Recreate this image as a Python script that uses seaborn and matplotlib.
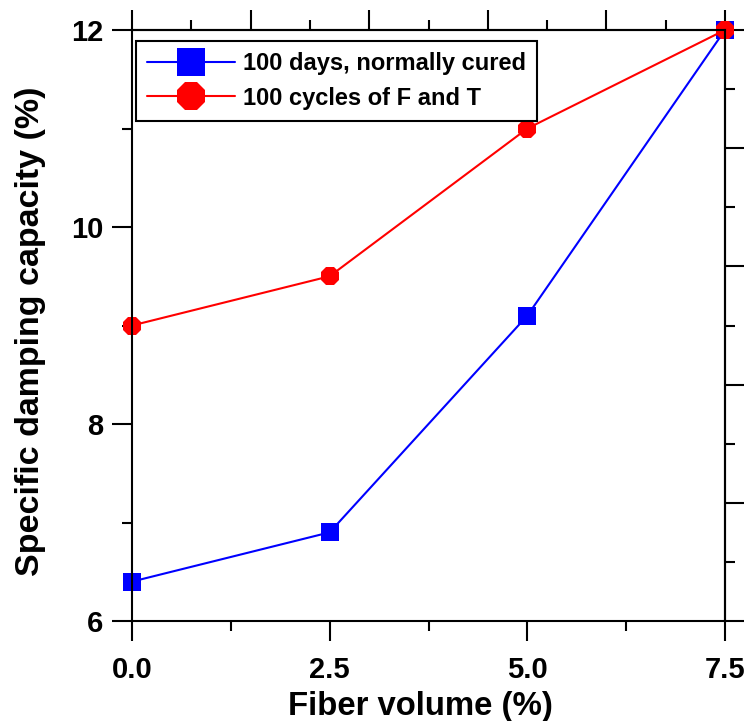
import matplotlib
matplotlib.use("Agg")
import matplotlib.pyplot as plt
import seaborn as sns
import numpy as np
import pandas as pd
from matplotlib.ticker import MultipleLocator, NullFormatter

fiber_volume = [0.0, 2.5, 5.0, 7.5]
normally_cured = [6.4, 6.9, 9.1, 12.0]
freeze_thaw = [9.0, 9.5, 11.0, 12.0]
label_cured = "100 days, normally cured"
label_ft = "100 cycles of F and T"
x_label = "Fiber volume (%)"
y_label = "Specific damping capacity (%)"
x_ticks = [0.0, 2.5, 5.0, 7.5]
y_ticks = [6, 8, 10, 12]

sns.set_theme(style="white")
plt.rcParams["font.family"] = ["Liberation Sans", "DejaVu Sans"]
plt.rcParams["font.weight"] = "bold"
plt.rcParams["text.color"] = "black"
plt.rcParams["axes.labelcolor"] = "black"
plt.rcParams["xtick.color"] = "black"
plt.rcParams["ytick.color"] = "black"

fig = plt.figure(figsize=(7.48, 7.21), dpi=100)
ax = fig.add_axes([132/748, 1-621/721, 593/748, 591/721])

lw_axis = 1.5
sns.lineplot(x=fiber_volume, y=normally_cured, ax=ax, color="#0000FF", marker="s",
             markersize=12.5, markeredgewidth=0, linewidth=1.5, label=label_cured,
             clip_on=False, zorder=2)
sns.lineplot(x=fiber_volume, y=freeze_thaw, ax=ax, color="#FF0000", marker="8",
             markersize=13.5, markeredgewidth=0, linewidth=1.5, label=label_ft,
             clip_on=False, zorder=2.1)

ax.set_xlim(0, 7.5)
ax.set_ylim(6, 12)
ax.set_xticks(x_ticks)
ax.set_xticklabels([f"{v:.1f}" for v in x_ticks])
ax.set_yticks(y_ticks)
ax.set_yticklabels([str(v) for v in y_ticks])
ax.xaxis.set_minor_locator(MultipleLocator(1.25))
ax.yaxis.set_minor_locator(MultipleLocator(1.0))

for s in ax.spines.values():
    s.set_visible(True)
    s.set_color("black")
    s.set_linewidth(lw_axis)

ax.tick_params(which="major", direction="out", length=14.5, width=lw_axis, color="black",
               labelcolor="black", labelsize=21, bottom=True, left=True, top=False, right=False)
ax.tick_params(which="minor", direction="out", length=7.5, width=lw_axis, color="black",
               bottom=True, left=True, top=False, right=False)
ax.tick_params(axis="x", which="major", pad=11)
ax.tick_params(axis="y", which="major", pad=6)
for lab in ax.get_xticklabels() + ax.get_yticklabels():
    lab.set_fontweight("bold")
    lab.set_color("black")

top = ax.secondary_xaxis("top", functions=(lambda x: x/7.5, lambda x: x*7.5))
top.set_xticks(np.linspace(0, 1, 6))
top.xaxis.set_minor_locator(MultipleLocator(0.1))
top.xaxis.set_major_formatter(NullFormatter())
top.tick_params(which="major", direction="out", length=14.5, width=lw_axis, color="black")
top.tick_params(which="minor", direction="out", length=7.5, width=lw_axis, color="black")
top.spines["top"].set_linewidth(lw_axis)
top.spines["top"].set_color("black")

right = ax.secondary_yaxis("right", functions=(lambda y: (y-6)/6, lambda y: y*6+6))
right.set_yticks(np.linspace(0, 1, 6))
right.yaxis.set_minor_locator(MultipleLocator(0.1))
right.yaxis.set_major_formatter(NullFormatter())
right.tick_params(which="major", direction="out", length=14, width=lw_axis, color="black")
right.tick_params(which="minor", direction="out", length=7, width=lw_axis, color="black")
right.spines["right"].set_linewidth(lw_axis)
right.spines["right"].set_color("black")

ax.set_xlabel(x_label, fontsize=23.7, fontweight="bold", color="black")
ax.set_ylabel(y_label, fontsize=24.5, fontweight="bold", color="black")
ax.xaxis.set_label_coords(0.486, -0.119)
ax.yaxis.set_label_coords(-0.145, 0.49)

leg = ax.legend(loc="upper left", bbox_to_anchor=(4/593, 1-11/591), borderaxespad=0,
                frameon=True, fancybox=False, edgecolor="black",
                markerscale=1.6, handlelength=3.72, handletextpad=0.34,
                borderpad=0.46, labelspacing=0.5, prop={"weight": "bold", "size": 17})
leg.get_frame().set_linewidth(1.5)
leg.get_frame().set_alpha(1)
for t in leg.get_texts():
    t.set_color("black")

fig.savefig("out.png", dpi=100)
